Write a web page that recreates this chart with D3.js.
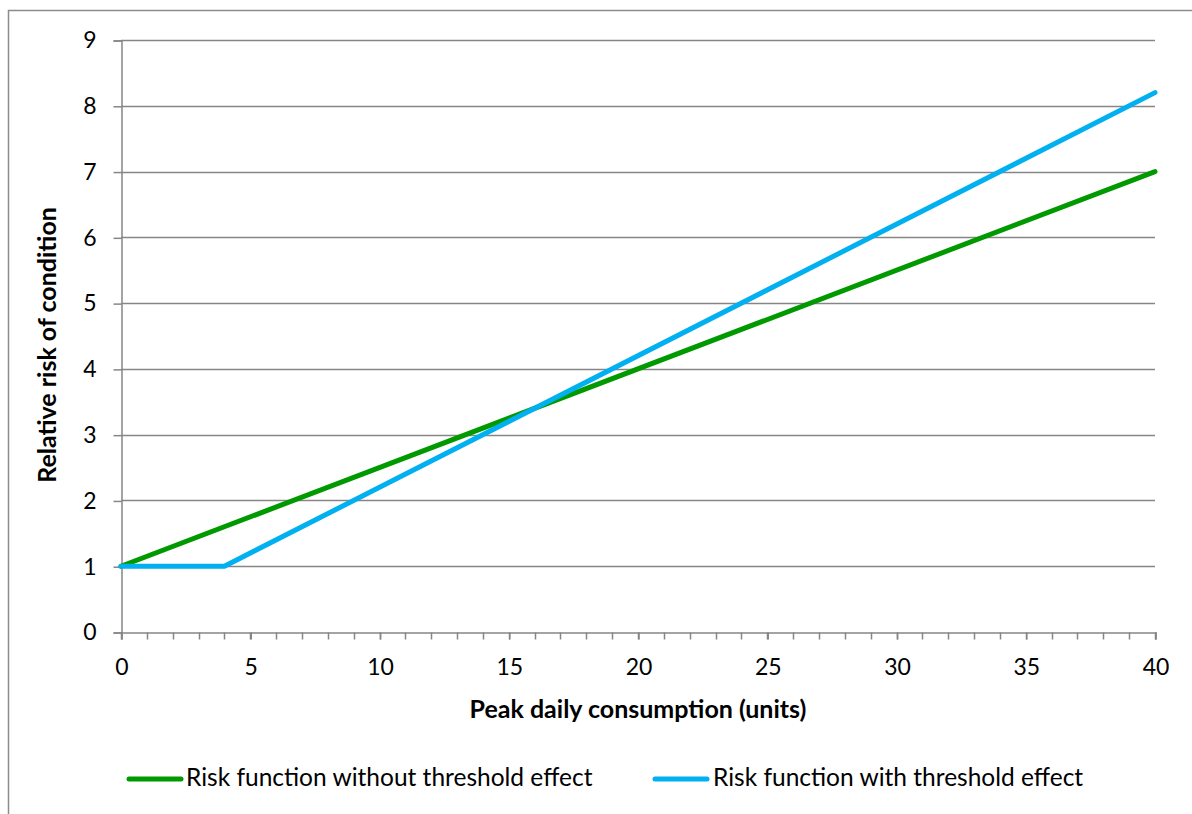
<!DOCTYPE html>
<html>
<head>
<meta charset="utf-8">
<script src="https://cdn.jsdelivr.net/npm/d3@7"></script>
<style>
  html, body { margin: 0; padding: 0; background: #fff; }
  svg { display: block; }
  text { font-family: Lato, "Open Sans", sans-serif; fill: #000; }
</style>
</head>
<body>
<svg id="chart" width="1192" height="814"></svg>
<script>
// Peak daily consumption (units) at each vertex
const noThresholdX = [0, 40];
const noThresholdY = [1, 7];
const thresholdX = [0, 4, 40];
const thresholdY = [1, 1, 8.2];

const seriesNames = ["Risk function without threshold effect", "Risk function with threshold effect"];
const seriesColors = ["#009A00", "#00B0F0"];

const xTicks = [0, 5, 10, 15, 20, 25, 30, 35, 40];
const xMinorTicks = d3.range(0, 41, 1);
const yTicks = [0, 1, 2, 3, 4, 5, 6, 7, 8, 9];

const xTitle = "Peak daily consumption (units)";
const yTitle = "Relative risk of condition";

const svg = d3.select("#chart");
const W = 1192, H = 814;
const plot = { left: 121, right: 1155, top: 40, bottom: 632 };

// outer chart frame (top and left edges visible)
svg.append("path")
  .attr("d", `M8.5,${H} L8.5,10.5 L${W},10.5`)
  .attr("fill", "none").attr("stroke", "#8c8c8c").attr("stroke-width", 1.5);

const x = d3.scaleLinear().domain([0, 40]).range([plot.left, plot.right]);
const y = d3.scaleLinear().domain([0, 9]).range([plot.bottom, plot.top]);

const gridColor = "#868686";

// horizontal gridlines
svg.append("g")
  .selectAll("line").data(yTicks.filter(d => d > 0)).join("line")
  .attr("x1", plot.left).attr("x2", plot.right)
  .attr("y1", d => Math.round(y(d)) + 0.5).attr("y2", d => Math.round(y(d)) + 0.5)
  .attr("stroke", gridColor).attr("stroke-width", 1.5);

// y axis
const yAxis = d3.axisLeft(y).tickValues(yTicks).tickSize(8).tickPadding(17).tickFormat(d3.format("d"));
const gy = svg.append("g").attr("transform", `translate(${plot.left + 0.5},0.5)`).call(yAxis);
gy.attr("font-family", null).attr("font-size", null);
gy.select(".domain").attr("stroke", gridColor).attr("stroke-width", 1.5);
gy.selectAll(".tick line").attr("stroke", gridColor).attr("stroke-width", 1.5);
gy.selectAll(".tick text").style("font-size", "23px");

// x axis minor ticks
const gxm = svg.append("g").attr("transform", `translate(0.5,${plot.bottom + 0.5})`);
gxm.selectAll("line").data(xMinorTicks).join("line")
  .attr("x1", d => Math.round(x(d))).attr("x2", d => Math.round(x(d)))
  .attr("y1", 0).attr("y2", 7)
  .attr("stroke", gridColor).attr("stroke-width", 1.5);

// x axis
const xAxis = d3.axisBottom(x).tickValues(xTicks).tickSize(7).tickPadding(19).tickFormat(d3.format("d"));
const gx = svg.append("g").attr("transform", `translate(0.5,${plot.bottom + 0.5})`).call(xAxis);
gx.attr("font-family", null).attr("font-size", null);
gx.select(".domain").attr("stroke", gridColor).attr("stroke-width", 1.5);
gx.selectAll(".tick line").attr("stroke", gridColor).attr("stroke-width", 1.5);
gx.selectAll(".tick text").style("font-size", "23px");

// axis titles
svg.append("text")
  .attr("x", (plot.left + plot.right) / 2).attr("y", 718)
  .attr("text-anchor", "middle")
  .style("font-size", "25px").style("font-weight", "bold")
  .text(xTitle);

svg.append("text")
  .attr("transform", `translate(56,${(plot.top + plot.bottom) / 2 + 9}) rotate(-90)`)
  .attr("text-anchor", "middle")
  .style("font-size", "25px").style("font-weight", "bold")
  .text(yTitle);

// series lines
const line = d3.line().x(d => x(d[0])).y(d => y(d[1]));
const series = [
  d3.zip(noThresholdX, noThresholdY),
  d3.zip(thresholdX, thresholdY)
];
svg.append("g").selectAll("path").data(series).join("path")
  .attr("d", line)
  .attr("fill", "none")
  .attr("stroke", (d, i) => seriesColors[i])
  .attr("stroke-width", 5)
  .attr("stroke-linecap", "round")
  .attr("stroke-linejoin", "round");

// legend
const legendItems = [
  { x0: 129, x1: 181, tx: 186 },
  { x0: 655, x1: 707, tx: 713 }
];
const lg = svg.append("g");
legendItems.forEach((it, i) => {
  lg.append("line")
    .attr("x1", it.x0).attr("x2", it.x1).attr("y1", 779).attr("y2", 779)
    .attr("stroke", seriesColors[i]).attr("stroke-width", 5).attr("stroke-linecap", "round");
  lg.append("text")
    .attr("x", it.tx).attr("y", 786)
    .style("font-size", "24.5px")
    .text(seriesNames[i]);
});
</script>
</body>
</html>
